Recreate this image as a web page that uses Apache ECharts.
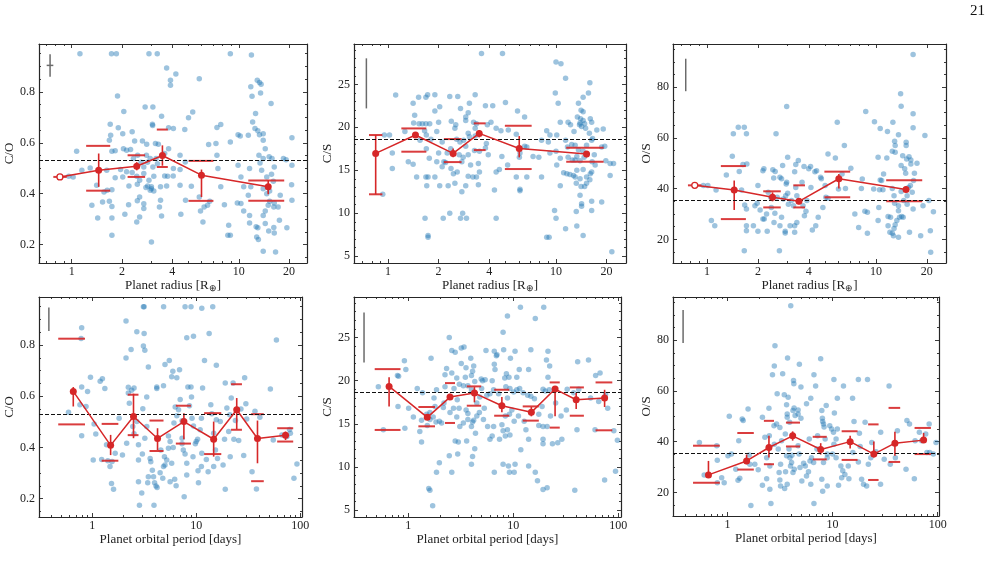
<!DOCTYPE html>
<html>
<head>
<meta charset="utf-8">
<title>C/O, C/S, O/S vs planet radius and orbital period</title>
<script src="https://cdn.jsdelivr.net/npm/echarts@6.0.0/dist/echarts.min.js"></script>
<style>
  html, body { margin: 0; padding: 0; background: #fff; }
  #main { width: 995px; height: 568px; }
</style>
</head>
<body>
<div id="main"></div>
<script>
"use strict";

var FONT = 'Liberation Serif';
var FRAME = '#262626';
var DOT = 'rgba(31,119,180,0.55)';
var RED = '#d62728';
var GREY = '#6b6b6b';

// solar reference ratios (dashed lines)
var solarCO = 0.532, solarCS = 18.65, solarOS = 35.6;

// tick labels
var radMajor = [1, 2, 4, 10, 20];
var radMinor = [0.7, 0.8, 0.9, 3, 5, 6, 7, 8, 9];
var perMajor = [1, 10, 100];
var perMinor = [0.4, 0.5, 0.6, 0.7, 0.8, 0.9, 2, 3, 4, 5, 6, 7, 8, 9, 20, 30, 40, 50, 60, 70, 80, 90];
var coMajor = [0.2, 0.4, 0.6, 0.8];
var csMajor = [5, 10, 15, 20, 25];
var osMajor = [20, 40, 60, 80];

// planets: [radius (R_earth), C/O]
var coRadius = [[1.12,0.95],[1.73,0.95],[1.85,0.95],[2.9,0.95],[3.25,0.95],[8.9,0.95],[11.9,0.945],
  [3.7,0.894],[4.2,0.87],[3.9,0.846],[3.9,0.826],[5.8,0.852],[12.9,0.846],[13.3,0.837],[13.6,0.83],[11.8,0.82],
  [13.5,0.796],[12,0.783],[1.88,0.784],[15.6,0.754],[2.75,0.741],[3.06,0.741],[2.05,0.723],[5.3,0.721],[5.0,0.698],
  [3.45,0.704],[12.6,0.715],[1.7,0.673],[1.9,0.659],[2.3,0.643],[2.02,0.636],[3.04,0.673],[3.05,0.668],[4.06,0.656],
  [3.8,0.659],[4.75,0.652],[7.8,0.672],[12.1,0.682],[12.5,0.656],[13,0.647],[14,0.636],[13.3,0.632],[1.71,0.63],
  [1.68,0.61],[2.38,0.607],[2.65,0.607],[2.04,0.577],[2.13,0.571],[2.25,0.574],[2.81,0.594],[3.17,0.597],[3.3,0.594],
  [1.74,0.567],[1.82,0.569],[1.07,0.567],[3.8,0.577],[3.6,0.558],[6.6,0.593],[8.9,0.603],[9.9,0.632],[10.2,0.627],
  [11.4,0.63],[14,0.61],[14.4,0.577],[20.8,0.62],[15.2,0.545],[15.8,0.538],[14,0.538],[13.4,0.521],[18.5,0.538],
  [19.2,0.533],[20.8,0.512],[13.7,0.492],[14.7,0.466],[15.7,0.477],[16.1,0.449],[14,0.42],[14.7,0.4],[15.3,0.411],
  [11.8,0.427],[10.7,0.427],[10.3,0.466],[9.9,0.512],[11.4,0.394],[9.8,0.364],[10.3,0.362],[10.7,0.332],[11.6,0.315],
  [11.6,0.285],[12.7,0.27],[13,0.266],[12.8,0.23],[13.1,0.22],[14,0.174],[16.6,0.171],[14.4,0.283],[15.1,0.254],
  [16.3,0.246],[16.2,0.348],[17.2,0.348],[14.4,0.332],[14,0.315],[15.3,0.37],[16.3,0.364],[17.7,0.394],[15,0.355],
  [16.3,0.505],[17.5,0.296],[16.2,0.267],[19.4,0.266],[20.7,0.435],[20.8,0.374],[13.2,0.551],[11.6,0.499],[7.8,0.427],
  [8.7,0.276],[8.6,0.237],[8.9,0.237],[8.2,0.357],[7.5,0.499],[6.7,0.37],[6.2,0.348],[5.9,0.332],[6.1,0.289],
  [6.5,0.355],[5.8,0.387],[5.2,0.429],[4.8,0.374],[4.5,0.319],[4.45,0.433],[4.45,0.551],[3.6,0.47],[4.05,0.47],
  [3.75,0.469],[3.1,0.469],[2.9,0.453],[3.0,0.42],[3.4,0.427],[3.7,0.43],[3.4,0.374],[3.35,0.348],[3.45,0.313],
  [3.0,0.21],[2.8,0.551],[2.95,0.538],[2.7,0.505],[2.7,0.479],[2.45,0.469],[2.47,0.437],[2.55,0.453],[2.85,0.43],
  [2.78,0.424],[2.95,0.414],[3.1,0.411],[3.0,0.427],[2.55,0.387],[2.47,0.372],[2.7,0.361],[2.7,0.342],[2.55,0.309],
  [2.45,0.289],[2.19,0.357],[2.08,0.319],[2.2,0.43],[2.02,0.466],[1.82,0.463],[1.74,0.416],[1.63,0.414],[1.56,0.407],
  [1.41,0.433],[1.68,0.37],[1.74,0.35],[1.53,0.368],[1.32,0.355],[1.43,0.305],[1.74,0.305],[1.74,0.237],[1.29,0.501],
  [1.15,0.492],[0.96,0.469],[1.02,0.466],[1.62,0.492],[1.96,0.495],[2.13,0.486],[2.3,0.483],[2.34,0.538],[2.48,0.551],
  [2.6,0.524],[2.84,0.524],[3.06,0.505],[3.26,0.518],[3.2,0.538],[4.06,0.499],[4.45,0.495],[4.78,0.525],[7.4,0.551],
  [7.3,0.597],[7.4,0.66]];

// planets: [radius, C/S]
var csRadius = [[3.6,28.6],[4.8,28.6],[10,27.6],[10.7,27.4],[11.4,25.7],[15.9,25.2],[1.11,23.76],[9.9,24.0],
  [1.41,22.8],[1.52,23.5],[1.68,23.5],[1.72,23.8],[1.9,23.8],[2.33,23.6],[2.6,23.6],[3.3,23.8],[10.3,22.8],[15.6,24.0],
  [14.5,23.5],[13.6,22.8],[14.1,22.0],[14.5,21.8],[5,22.9],[4.2,22.5],[3.8,22.5],[2.7,22.2],[3.05,22.8],[2.03,22.4],
  [1.9,21.9],[5.9,21.9],[6.5,21.2],[3.0,21.7],[2.9,21.2],[2.9,20.8],[1.44,21.4],[2.38,20.7],[2.53,20.3],[2.5,19.9],
  [2.0,20.6],[1.42,20.5],[1.53,20.4],[1.6,20.4],[1.68,20.4],[1.77,20.4],[3.23,20.6],[3.3,19.9],[3.36,20.4],[3.9,20.3],
  [4.1,20.6],[4.4,19.9],[4.7,19.6],[5.2,19.7],[5.8,19.2],[10.6,20.6],[11.8,20.6],[13.4,21.2],[14,21.0],[13.9,20.5],
  [13.8,20.3],[14.2,20.1],[14.5,20.8],[14.8,20.4],[15,19.9],[16,21.0],[16.3,20.6],[17.5,19.7],[15.8,19.3],[16.5,18.7],
  [16.3,18.5],[19.1,19.8],[12.8,19.5],[12.2,20.3],[8.8,19.6],[9.2,19.1],[8.2,18.5],[10.1,19.1],[11.4,18.5],[11.7,17.7],
  [13,17.9],[12.4,18.0],[15.2,17.9],[18.7,17.7],[19.5,17.8],[13.6,17.4],[14.5,17.2],[13.3,16.6],[14.7,16.5],[11.8,16.5],
  [12.5,16.2],[13.0,16.2],[13.9,16.1],[16.9,16.8],[16.4,16.0],[17.1,15.6],[19.8,16.1],[21,15.8],[22,15.8],[10,17.2],
  [10.6,16.4],[11.1,14.7],[11.6,14.6],[12.1,14.5],[12.7,14.4],[13.3,15.0],[14.5,15.1],[13.9,14.0],[15.2,14.2],[16.3,14.8],
  [16.0,14.6],[15.9,13.9],[15.2,13.5],[14.8,13.1],[13,14.2],[13.2,13.5],[14.1,13.1],[13.9,12.1],[10.6,13.2],[8.2,14.2],
  [10.1,15.6],[9.2,17.0],[7.3,16.6],[7.9,16.5],[9,18.3],[6.7,17.7],[6.1,17.0],[6.5,17.8],[6.05,16.5],[5.15,15.6],
  [5.8,14.2],[6.1,12.8],[6.1,12.6],[6.7,14.2],[4.76,16.6],[4.6,15.1],[4.4,14.8],[4.3,12.7],[4.4,9.4],[3.95,16.8],
  [3.85,18.1],[3.8,17.6],[3.5,17.2],[3.45,15.8],[3.27,17.3],[3.3,19.0],[3.05,18.9],[3,19.3],[3.1,15.6],[3.0,14.3],
  [3.2,14.2],[3.36,14.2],[3.45,13.3],[3.5,14.8],[2.9,13.2],[2.75,12.5],[2.5,13.5],[2.28,13.2],[2.03,13.2],[1.7,13.2],
  [1.73,14.2],[1.68,14.2],[1.48,14.2],[1.9,14.2],[1.95,16.0],[2.0,17.0],[2.1,18.3],[2.36,17.5],[2.25,17.0],[2.56,18.6],
  [2.68,18.3],[2.65,16.8],[2.75,16.0],[2.8,16.5],[2.37,15.2],[2.45,14.6],[2.58,14.8],[2.2,15.9],[2.9,17.8],[2.82,18.5],
  [3.0,16.8],[2.15,16.0],[2.1,15.4],[1.76,16.4],[1.69,17.5],[1.69,19.1],[1.65,19.6],[1.55,18.5],[1.32,16.0],[1.41,15.7],
  [1.26,19.5],[1.06,17.0],[1.06,15.2],[0.95,19.1],[1.02,19.1],[0.93,12.2],[1.66,9.4],[1.73,7.4],[1.73,7.2],[2.13,9.4],
  [2.33,10.0],[2.7,9.4],[2.78,10.0],[2.93,9.4],[8.8,7.2],[9.1,7.2],[9.8,10.3],[10,9.4],[11.4,8.2],[13.2,10.2],[13.3,8.5],
  [14.2,11.1],[14.2,10.8],[14.5,7.4],[16.3,10.3],[16.3,11.4],[18.7,11.3],[21,14.4],[21.5,5.5],[1.95,19.5],[1.8,18.6]];

// planets: [radius, O/S]
var osRadius = [[16.6,92.9],[14,77.4],[14.1,72.5],[2.96,72.4],[8.7,70.4],[9.8,66.4],[5.9,66.2],[12.6,66.2],
  [16.6,69.5],[16.6,64.0],[10.6,63.7],[11.7,62.5],[13.6,61.2],[19.5,60.9],[1.43,61.6],[1.53,64.2],[1.66,64.2],
  [1.71,61.6],[2.56,61.6],[12.9,58.7],[13,57.0],[15.1,58.3],[15.1,57.0],[6.5,57.0],[12.5,54.7],[13,54.3],[5.2,53.7],
  [5.75,52.1],[10.3,52.4],[11.6,52.1],[14.4,53.0],[15.2,51.7],[15.7,52.6],[16.1,51.3],[16.1,49.7],[17.5,50.0],
  [14.1,49.1],[14.8,47.8],[16.9,46.1],[1.41,52.8],[3.0,52.4],[3.47,51.1],[3.35,49.5],[3.75,48.7],[3.3,46.7],[2.8,49.1],
  [1.3,45.4],[1.55,46.8],[1.63,49.5],[1.72,49.7],[2.14,47.1],[2.17,47.8],[2.45,47.4],[2.53,46.8],[2.7,44.5],[2.76,43.9],
  [2.48,44.2],[2.96,42.5],[2.94,41.8],[3.35,40.5],[3.65,42.5],[4,47.8],[4.1,48.7],[4.35,46.7],[4.45,47.1],[4.7,44.5],
  [4.75,43.9],[5.05,36.6],[4.85,32.6],[4.55,28.7],[4.4,25.4],[4.2,23.7],[3.77,29.3],[3.85,31.1],[3.7,33.3],[3.9,35.3],
  [3.25,33.3],[3.3,25.4],[3.4,26.7],[3.3,22.8],[2.9,23.2],[2.9,22.5],[3.1,25.4],[2.7,25.4],[2.76,28.7],[2.52,30.3],
  [2.6,36.6],[2.83,35.9],[3.03,33.9],[2.92,37.2],[3.0,38.2],[3.4,37.2],[3.16,35.3],[2.4,32.6],[2.49,26.7],[2.25,30.0],
  [2.27,23.2],[2.14,28.0],[2.18,28.0],[2.06,31.6],[1.92,33.3],[1.98,34.2],[1.88,25.4],[2.0,23.2],[1.71,32.0],[1.71,23.4],
  [1.71,25.4],[1.66,15.5],[1.67,33.6],[1.6,39.5],[1.06,27.4],[1.11,25.4],[1.01,41.2],[0.95,41.2],[1.13,39.5],[2.0,41.2],
  [2.3,38.6],[2.38,36.6],[2.68,15.5],[4.12,40.5],[5.0,41.2],[5.2,36.2],[6.0,39.9],[6.3,45.8],[6.6,40.1],[7.1,48.0],
  [7.5,30.0],[7.9,24.7],[8.2,40.1],[8.3,43.8],[8.6,31.1],[8.9,30.7],[8.9,22.4],[10.3,27.4],[10.4,32.6],[10.5,39.6],
  [10.6,43.4],[10.8,43.2],[11,39.6],[11.8,29.0],[12.2,28.7],[11.8,25.4],[12.1,22.8],[12.5,22.4],[12.7,21.4],[13.6,20.8],
  [12.8,24.3],[13,25.8],[13.3,27.4],[13.8,28.7],[14.2,29.0],[14.5,28.7],[12.5,40.1],[12.8,37.2],[12.9,34.2],[13.6,31.3],
  [13.6,33.3],[14.1,38.9],[14.6,35.3],[15.3,33.9],[15.3,37.2],[15.6,40.5],[16,41.2],[16.4,38.6],[16.7,43.2],[16.6,32.0],
  [15.8,22.8],[18.4,21.4],[19,33.3],[20.6,35.3],[21,23.4],[21.9,30.9],[21.1,14.9],[15,46.1],[11.1,45.8],[9.7,39.9]];

// planets: [orbital period (days), C/O]
var coPeriod = [[3.1,0.95],[3.15,0.95],[4.85,0.95],[7.8,0.95],[8.9,0.95],[11.3,0.944],[14.4,0.95],[2.11,0.894],
  [0.79,0.868],[2.68,0.852],[3.15,0.845],[13.3,0.845],[8.1,0.829],[9.4,0.835],[0.78,0.826],[59,0.82],[3.1,0.796],
  [3.2,0.78],[2.36,0.783],[2.11,0.75],[12,0.74],[5.5,0.74],[5.0,0.724],[6.9,0.704],[5.95,0.698],[15.6,0.721],[3.46,0.714],
  [6.5,0.672],[5.8,0.676],[4.17,0.636],[4.17,0.63],[4.84,0.641],[8.3,0.636],[0.79,0.636],[0.76,0.567],[0.96,0.674],
  [0.9,0.619],[0.87,0.56],[0.79,0.446],[1.19,0.659],[1.25,0.668],[1.32,0.63],[0.59,0.537],[1.04,0.492],[1.08,0.452],
  [1.02,0.351],[1.37,0.41],[1.41,0.348],[1.48,0.325],[1.55,0.345],[1.53,0.259],[1.6,0.236],[1.66,0.377],[1.23,0.353],
  [1.95,0.37],[1.81,0.514],[2.14,0.416],[2.22,0.635],[2.22,0.613],[2.27,0.573],[2.39,0.623],[2.52,0.632],[2.45,0.482],
  [2.52,0.453],[2.68,0.501],[2.78,0.41],[2.78,0.351],[2.78,0.266],[2.84,0.174],[2.99,0.222],[3.03,0.374],[3.2,0.436],
  [3.34,0.482],[3.34,0.597],[3.06,0.551],[3.46,0.285],[3.41,0.262],[3.6,0.357],[3.65,0.344],[3.78,0.311],[3.88,0.285],
  [3.97,0.262],[3.92,0.174],[4.1,0.249],[4.2,0.243],[4.49,0.301],[4.56,0.39],[4.76,0.279],[4.84,0.325],[4.94,0.364],
  [5.0,0.331],[5.2,0.351],[5.4,0.397],[5.4,0.445],[5.6,0.423],[5.8,0.338],[6.0,0.4],[6.1,0.495],[6.27,0.558],[6.75,0.547],
  [7,0.587],[6.5,0.524],[7.3,0.504],[7.3,0.436],[7.3,0.414],[6.2,0.276],[6.4,0.25],[5.6,0.266],[7.65,0.207],[7.5,0.39],
  [7.8,0.374],[8.1,0.338],[8.1,0.292],[8.6,0.563],[8.9,0.636],[9.0,0.597],[9.1,0.514],[9.4,0.484],[9.3,0.364],[9.8,0.414],
  [10,0.423],[10.3,0.432],[10.9,0.469],[11.3,0.377],[10.4,0.309],[10.5,0.262],[11.2,0.325],[11.5,0.632],[11.2,0.514],
  [12.5,0.353],[13,0.305],[13.8,0.567],[14.1,0.532],[14.7,0.455],[14.7,0.325],[15.3,0.39],[15.6,0.508],[16,0.357],
  [17,0.501],[18.1,0.331],[19,0.236],[18.7,0.432],[19,0.652],[19.7,0.554],[21,0.528],[20.5,0.462],[21.2,0.364],
  [21.7,0.593],[22.6,0.652],[23,0.432],[23.8,0.505],[25.6,0.427],[26.9,0.55],[28.6,0.368],[29.2,0.672],[30,0.571],
  [30.6,0.511],[36.7,0.541],[34.4,0.305],[37.9,0.237],[40.9,0.518],[51.6,0.628],[55,0.429],[66.6,0.449],[74.6,0.443],
  [80.4,0.455],[79,0.47],[87,0.279],[93,0.335]];

// planets: [period, C/S]
var csPeriod = [[11.7,28.5],[19.5,28.5],[8.8,27.5],[16.2,27.2],[8,25.6],[2.46,25.0],[2.6,23.5],[2.8,23.3],[3.2,23.8],
  [3.4,23.9],[5.5,23.5],[6.6,23.4],[6.9,22.9],[7.0,23.0],[8.1,23.6],[10.4,23.4],[14.7,23.6],[21.4,23.4],[1.65,22.6],
  [0.92,22.3],[0.95,21.3],[3.94,22.6],[9.4,22.6],[20.7,22.4],[22.2,21.7],[41,22.2],[52,22.4],[3.2,22.0],[3.55,21.5],
  [4.2,21.7],[4.1,21.1],[2.32,21.4],[2.24,20.7],[2.6,20.9],[6.7,21.3],[6.6,21.9],[11.4,21.3],[14,21.3],[8.6,20.8],
  [8.3,20.3],[9.1,20.4],[4.0,20.6],[4.95,20.2],[5.4,20.1],[5.1,20.0],[4.3,19.9],[6.3,20.0],[10.8,20.4],[21.4,20.4],
  [60.8,20.6],[0.79,20.6],[0.81,20.5],[2.9,20.3],[3.5,20.4],[3.7,19.4],[4.0,18.95],[3.35,19.4],[3.07,19.6],[2.73,19.1],
  [2.24,19.3],[1.86,18.95],[1.76,18.0],[1.22,19.1],[1.37,18.6],[0.52,19.3],[5.0,19.1],[4.8,18.1],[4.5,17.4],[5.6,18.3],
  [6.0,18.5],[6.5,18.95],[7.25,18.5],[8.5,19.3],[8.8,18.0],[9.3,19.1],[10.1,18.7],[10.8,18.95],[11.5,19.1],[12.4,18.6],
  [13.7,18.3],[14.7,18.2],[15.9,17.9],[19.2,19.0],[20.2,18.8],[22,18.95],[32.6,19.0],[37.6,18.6],[42,19.0],[54.4,18.0],
  [65,17.6],[75.6,18.4],[79.2,16.8],[67,20.9],[32,16.6],[25.3,17.4],[22.6,15.9],[18.8,17.0],[17.5,16.1],[17.5,14.8],
  [19.2,14.7],[21,14.7],[19.2,13.2],[19.2,12.7],[23.6,12.7],[26.5,12.8],[29,13.2],[28.5,15.9],[12.7,15.3],[14,13.2],
  [13.2,14.3],[11.8,12.0],[11.2,15.9],[10.2,15.3],[9.7,16.6],[9.2,16.1],[8.4,15.9],[7.8,14.9],[8.0,14.2],[8.8,14.3],
  [9.3,13.7],[8.4,13.6],[7.4,13.2],[6.5,14.7],[6.3,13.6],[6.0,13.2],[5.7,14.7],[5.2,15.5],[5.3,16.8],[4.76,16.3],
  [4.5,15.9],[4.2,15.4],[4.1,15.2],[4.37,13.9],[4.0,14.7],[3.7,15.5],[3.7,16.2],[3.56,16.6],[3.35,15.1],[3.1,14.7],
  [2.9,15.8],[3.05,16.8],[2.93,17.8],[2.7,16.8],[2.5,16.3],[2.19,17.4],[2.08,15.1],[1.98,15.3],[2.16,16.9],[1.5,16.1],
  [1.61,15.5],[1.61,16.3],[1.34,15.4],[1.29,14.1],[1.34,12.9],[1.12,15.8],[1.01,16.8],[0.8,17.0],[0.58,14.3],[0.93,14.5],
  [1.8,17.0],[1.73,15.8],[1.84,15.2],[1.52,14.8],[1.57,7.5],[1.61,7.3],[1.71,5.5],[1.86,9.4],[1.98,10.5],[2.6,9.4],
  [2.46,11.3],[2.8,13.0],[2.96,11.5],[3.0,12.9],[3.6,13.0],[4.0,10.3],[4.1,11.2],[4.3,12.1],[6.6,9.4],[8,10.3],[9,10.1],
  [9.2,9.4],[10.2,9.4],[10.4,10.3],[14,10.1],[16.2,9.4],[17,8.4],[19.2,7.4],[21,7.6],[38.5,7.3],[40.4,14.3],[74,8.5],
  [90.6,14.2],[94,9.5],[98,13.1],[60,14.3]];

// planets: [period, O/S]
var osPeriod = [[4.0,93.6],[2.83,77.8],[2.79,69.8],[3.73,73.0],[7.7,72.7],[4.83,70.5],[2.68,66.4],[6.65,66.4],
  [3.35,66.8],[4.25,64.1],[4.28,62.8],[5.0,61.5],[6.9,61.9],[10.3,64.5],[12.7,61.9],[17.6,64.5],[21.5,64.5],[34.5,61.9],
  [15.5,57.1],[11.1,57.1],[6.2,57.1],[2.97,58.9],[3.47,58.5],[5.65,54.9],[3.65,54.5],[3.78,57.5],[4.3,53.3],[8.7,54.2],
  [10.4,51.3],[1.57,52.9],[2.48,53.2],[3.7,50.9],[3.7,49.6],[4.2,52.3],[4.7,52.5],[4.4,50.3],[3.9,47.6],[4.7,50.9],
  [5.0,49.2],[8,49.2],[8.05,47.9],[7.9,52.3],[8.2,47.0],[8.3,45.8],[2.15,49.6],[1.38,48.9],[1.41,48.3],[1.04,50.0],
  [0.54,39.7],[0.79,38.4],[0.8,32.7],[0.6,26.9],[0.88,25.8],[0.93,23.8],[0.8,23.8],[1.01,34.4],[1.09,35.1],[1.28,40.4],
  [1.2,29.1],[1.26,24.8],[1.31,25.6],[1.61,34.7],[1.63,31.1],[1.82,31.1],[1.96,28.9],[1.67,14.8],[2.15,22.8],[2.36,25.4],
  [2.53,21.2],[2.53,30.4],[2.36,33.7],[2.59,15.6],[2.27,41.7],[2.5,42.3],[2.77,46.3],[2.93,47.0],[3.15,45.6],[2.79,39.0],
  [3.04,37.1],[3.27,40.4],[3.2,31.1],[3.1,27.8],[3.15,24.9],[3.2,22.5],[3.5,21.5],[3.57,28.1],[3.65,34.4],[3.55,43.0],
  [3.85,37.1],[3.93,33.7],[4.1,34.6],[4.07,31.8],[3.98,30.4],[4.32,29.1],[4.2,27.8],[3.7,23.2],[4.7,38.4],[4.8,35.1],
  [4.9,29.8],[5.3,31.5],[5.1,24.5],[5.5,30.4],[5.65,26.5],[5.9,28.1],[6.1,32.4],[6.3,33.7],[6.2,23.2],[6.0,41.0],
  [6.6,31.8],[6.65,15.6],[7.1,37.1],[7.2,42.3],[7.9,25.2],[8.05,20.5],[8.2,31.8],[8.5,41.0],[8.9,35.1],[8.9,33.7],
  [8.9,22.5],[9.4,46.3],[9.8,45.0],[10.2,43.7],[10.3,39.0],[10.8,41.0],[11.1,45.0],[10.0,35.1],[10.8,33.7],[11.4,22.8],
  [12,30.4],[12.2,25.8],[12.5,28.5],[13.1,27.1],[14.1,30.4],[14.3,25.4],[15.6,35.7],[16,47.9],[17.6,32.0],[18,43.3],
  [18.3,38.1],[18.9,25.2],[19.7,23.2],[20.4,47.6],[21.1,22.5],[21.9,31.1],[23.1,33.7],[23.6,39.7],[25.9,36.0],
  [28.7,43.7],[28.6,23.2],[31,33.1],[35.4,31.1],[39.6,33.7],[41.4,44.3],[51,48.3],[54,47.0],[50,29.1],[60,25.4],
  [61,40.4],[67,43.7],[77,43.0],[83,47.0],[79,35.7],[91,35.1],[96.5,39.7],[84,35.7],[70.5,40.4]];

// binned statistics: [centre, mean, errLo, errHi, binLo, binHi, pctLo, pctHi]
// errLo = null marks a single-planet bin (open marker, no error bar)
var coRadBins = [
  [0.85, 0.466, null, null, 0.776, 0.933, 0.466, 0.466],
  [1.45, 0.492, 0.427, 0.558, 1.22, 1.70, 0.412, 0.588],
  [2.45, 0.508, 0.492, 0.524, 2.16, 2.75, 0.466, 0.551],
  [3.49, 0.550, 0.510, 0.590, 3.23, 3.76, 0.505, 0.652],
  [5.98, 0.473, 0.387, 0.495, 5.00, 7.05, 0.372, 0.529],
  [15.0, 0.427, 0.398, 0.453, 11.4, 18.7, 0.372, 0.452]];
var csRadBins = [
  [0.844, 16.96, 12.2, 19.1, 0.77, 0.925, 12.2, 19.1],
  [1.456, 19.1, 18.8, 19.3, 1.20, 1.69, 17.16, 19.87],
  [2.44, 16.96, 16.5, 17.54, 2.15, 2.74, 15.95, 18.63],
  [3.49, 19.29, 18.83, 19.68, 3.24, 3.81, 17.35, 20.46],
  [6.04, 17.54, 16.5, 18.98, 4.96, 7.16, 15.14, 20.18],
  [15.2, 16.88, 16.5, 17.16, 11.5, 19.2, 15.99, 17.62]];
var osRadBins = [
  [0.845, 41.3, null, null, 0.77, 0.925, 41.3, 41.3],
  [1.447, 39.5, 31.6, 43.2, 1.206, 1.697, 28.0, 48.9],
  [2.44, 36.6, 35.0, 38.55, 2.15, 2.73, 32.6, 38.95],
  [3.50, 35.0, 33.9, 35.9, 3.24, 3.80, 32.6, 41.3],
  [6.03, 43.9, 40.1, 45.8, 4.95, 7.04, 36.6, 46.7],
  [15.07, 39.7, 38.55, 40.8, 11.5, 18.8, 35.0, 43.3]];
var coPerBins = [
  [0.656, 0.619, 0.560, 0.636, 0.47, 0.85, 0.490, 0.825],
  [1.50, 0.408, 0.370, 0.449, 1.23, 1.78, 0.348, 0.492],
  [2.49, 0.521, 0.436, 0.610, 2.19, 2.78, 0.448, 0.606],
  [4.24, 0.435, 0.390, 0.475, 3.55, 4.84, 0.386, 0.505],
  [7.6, 0.501, 0.432, 0.534, 6.36, 8.89, 0.415, 0.563],
  [14.7, 0.432, 0.364, 0.501, 11.9, 17.4, 0.374, 0.534],
  [24.5, 0.547, 0.471, 0.593, 21.6, 27.5, 0.469, 0.647],
  [38.8, 0.435, 0.338, 0.505, 33.7, 44.6, 0.268, 0.530],
  [72.2, 0.448, 0.429, 0.462, 60.0, 85.6, 0.423, 0.475]];
var csPerBins = [
  [0.658, 19.34, 17.02, 20.41, 0.48, 0.845, 14.29, 21.34],
  [1.52, 15.75, 15.48, 16.06, 1.25, 1.80, 14.71, 16.95],
  [2.50, 18.1, 17.79, 18.49, 2.24, 2.79, 15.1, 19.72],
  [4.27, 18.56, 17.49, 19.26, 3.61, 4.95, 17.1, 19.34],
  [7.79, 17.1, 16.33, 18.1, 6.58, 9.16, 15.94, 18.95],
  [14.86, 16.33, 15.87, 16.95, 12.3, 17.5, 15.37, 17.02],
  [25.0, 19.03, 15.87, 19.34, 22.2, 27.7, 14.56, 19.8],
  [39.7, 17.79, 16.71, 18.56, 34.5, 47.0, 15.94, 19.22],
  [74.0, 17.99, 16.95, 18.95, 60.7, 87.6, 14.25, 19.8]];
var osPerBins = [
  [0.659, 26.9, 26.5, 32.4, 0.47, 0.845, 23.8, 38.4],
  [1.52, 32.4, 31.1, 34.9, 1.24, 1.78, 29.0, 43.4],
  [2.48, 37.7, 33.75, 42.3, 2.22, 2.77, 31.1, 48.2],
  [4.17, 42.3, 40.4, 44.05, 3.6, 4.9, 38.1, 47.5],
  [7.71, 36.9, 34.9, 39.4, 6.47, 8.8, 33.0, 41.9],
  [14.7, 40.0, 37.3, 42.3, 12.2, 17.3, 32.8, 44.1],
  [24.7, 35.1, 33.75, 40.1, 21.8, 27.4, 24.9, 46.8],
  [39.2, 39.4, 34.4, 43.9, 34.1, 44.0, 32.0, 53.3],
  [73.5, 40.6, 39.7, 43.4, 60.3, 86.3, 35.1, 45.4]];

// typical uncertainty markers: [x, lo, hi] and optional horizontal [x0, x1, y]
var uncCoRad = [0.742, 0.859, 0.948], uncCoRadH = [0.708, 0.776, 0.904];
var uncCsRad = [0.743, 22.2, 28.03];
var uncOsRad = [0.747, 78.4, 91.2];
var uncCoPer = [0.382, 0.855, 0.947];
var uncCsPer = [0.38, 22.11, 27.89];
var uncOsPer = [0.378, 78.9, 91.9];

var radName = 'Planet radius [R{s|\u2295}]';
var perName = 'Planet orbital period [days]';

var panels = [
  {pts: coRadius, bins: coRadBins, unc: uncCoRad, uncH: uncCoRadH, ref: solarCO, yName: 'C/O', xName: radName,
   xr: [0.637, 25.6], yr: [0.128, 0.988], xMajor: radMajor, xMinor: radMinor, yMajor: coMajor, yStep: 0.05,
   box: [39, 44, 268, 219], yGap: 20},
  {pts: csRadius, bins: csRadBins, unc: uncCsRad, ref: solarCS, yName: 'C/S', xName: radName,
   xr: [0.627, 26.1], yr: [4.2, 29.7], xMajor: radMajor, xMinor: radMinor, yMajor: csMajor, yStep: 1,
   box: [354, 44, 272, 219], yGap: 17},
  {pts: osRadius, bins: osRadBins, unc: uncOsRad, ref: solarOS, yName: 'O/S', xName: radName,
   xr: [0.628, 26.0], yr: [10.7, 97], xMajor: radMajor, xMinor: radMinor, yMajor: osMajor, yStep: 5,
   box: [673, 44, 273, 219], yGap: 18},
  {pts: coPeriod, bins: coPerBins, unc: uncCoPer, ref: solarCO, yName: 'C/O', xName: perName,
   xr: [0.307, 104], yr: [0.128, 0.988], xMajor: perMajor, xMinor: perMinor, yMajor: coMajor, yStep: 0.05,
   box: [39, 297, 263, 220], yGap: 20},
  {pts: csPeriod, bins: csPerBins, unc: uncCsPer, ref: solarCS, yName: 'C/S', xName: perName,
   xr: [0.305, 106], yr: [4.2, 29.7], xMajor: perMajor, xMinor: perMinor, yMajor: csMajor, yStep: 1,
   box: [354, 297, 267, 220], yGap: 18},
  {pts: osPeriod, bins: osPerBins, unc: uncOsPer, ref: solarOS, yName: 'O/S', xName: perName,
   xr: [0.303, 103], yr: [10.7, 97], xMajor: perMajor, xMinor: perMinor, yMajor: osMajor, yStep: 5,
   box: [673, 297, 266, 219], yGap: 18}
];

function lg(v) { return Math.log10(v); }

function minorOf(r, step, major) {
  var out = [];
  for (var k = Math.ceil(r[0] / step - 1e-9); k * step <= r[1] + 1e-9; k++) {
    var v = +(k * step).toFixed(6);
    if (major.indexOf(v) < 0) out.push(v);
  }
  return out;
}

function mkAxis(gi, pos, range, ticks, len, main) {
  return {
    type: 'value', gridIndex: gi, position: pos,
    min: range[0], max: range[1],
    axisLine: {show: main, onZero: false, lineStyle: {color: FRAME, width: 1.2}},
    axisTick: {show: true, inside: true, length: len, customValues: ticks,
      lineStyle: {color: FRAME, width: 0.9}},
    axisLabel: {show: false},
    splitLine: {show: false},
    silent: true
  };
}

function hSeg(color, width) {
  return function (params, api) {
    var a = api.coord([api.value(0), api.value(2)]);
    var b = api.coord([api.value(1), api.value(2)]);
    return {type: 'line', shape: {x1: a[0], y1: a[1], x2: b[0], y2: b[1]},
      style: {stroke: color, lineWidth: width}};
  };
}
function vSeg(color, width) {
  return function (params, api) {
    var a = api.coord([api.value(0), api.value(1)]);
    var b = api.coord([api.value(0), api.value(2)]);
    return {type: 'line', shape: {x1: a[0], y1: a[1], x2: b[0], y2: b[1]},
      style: {stroke: color, lineWidth: width}};
  };
}

var grids = [], xAxes = [], yAxes = [], series = [];

panels.forEach(function (p, g) {
  grids.push({left: p.box[0], top: p.box[1], width: p.box[2], height: p.box[3],
    outerBoundsMode: 'none', containLabel: false});

  var xr = [lg(p.xr[0]), lg(p.xr[1])];
  var xMaj = p.xMajor.map(lg), xMin = p.xMinor.map(lg);
  var yMin = minorOf(p.yr, p.yStep, p.yMajor);

  // x: bottom major (labels), bottom minor, top major, top minor
  var xb = mkAxis(g, 'bottom', xr, xMaj, 4, true);
  xb.axisLabel = {show: true, customValues: xMaj, margin: 3, color: '#222',
    fontFamily: FONT, fontSize: 12,
    formatter: function (v) { return String(Math.round(Math.pow(10, v) * 100) / 100); }};
  xb.name = p.xName;
  xb.nameLocation = 'middle';
  xb.nameGap = 14;
  xb.nameTextStyle = {color: '#222', fontFamily: FONT, fontSize: 13,
    rich: {s: {fontFamily: FONT, fontSize: 9, color: '#222', verticalAlign: 'bottom', padding: [6, 0, 0, 0]}}};
  xAxes.push(xb, mkAxis(g, 'bottom', xr, xMin, 2, false),
    mkAxis(g, 'top', xr, xMaj, 4, true), mkAxis(g, 'top', xr, xMin, 2, false));

  // y: left major (labels), left minor, right major, right minor
  var yl = mkAxis(g, 'left', p.yr, p.yMajor, 4, true);
  yl.axisLabel = {show: true, customValues: p.yMajor, margin: 4, color: '#222',
    fontFamily: FONT, fontSize: 12};
  yl.name = p.yName;
  yl.nameLocation = 'middle';
  yl.nameGap = p.yGap;
  yl.nameRotate = 90;
  yl.nameTextStyle = {color: '#222', fontFamily: FONT, fontSize: 13};
  yAxes.push(yl, mkAxis(g, 'left', p.yr, yMin, 2, false),
    mkAxis(g, 'right', p.yr, p.yMajor, 4, true), mkAxis(g, 'right', p.yr, yMin, 2, false));

  var xi = 4 * g, yi = 4 * g;

  series.push({
    type: 'scatter', xAxisIndex: xi, yAxisIndex: yi, z: 2,
    symbolSize: 5.5, itemStyle: {color: DOT},
    data: p.pts.map(function (d) { return [lg(d[0]), d[1]]; }),
    markLine: {silent: true, symbol: 'none', label: {show: false},
      lineStyle: {color: '#111', type: [4, 2], width: 1},
      data: [{yAxis: p.ref}]}
  });

  var dashes = [];
  p.bins.forEach(function (b) {
    dashes.push([lg(b[4]), lg(b[5]), b[6]]);
    if (b[7] !== b[6]) dashes.push([lg(b[4]), lg(b[5]), b[7]]);
  });
  series.push({
    type: 'custom', xAxisIndex: xi, yAxisIndex: yi, z: 3,
    renderItem: hSeg('rgba(214,39,40,0.9)', 2), encode: {x: [0, 1], y: 2}, data: dashes
  });

  series.push({
    type: 'custom', xAxisIndex: xi, yAxisIndex: yi, z: 4,
    renderItem: vSeg(RED, 1.6), encode: {x: 0, y: [1, 2]},
    data: p.bins.filter(function (b) { return b[2] !== null; })
      .map(function (b) { return [lg(b[0]), b[2], b[3]]; })
  });

  series.push({
    type: 'line', xAxisIndex: xi, yAxisIndex: yi, z: 5,
    symbol: 'circle', symbolSize: 7, showAllSymbol: true,
    lineStyle: {color: RED, width: 1.5}, itemStyle: {color: RED},
    data: p.bins.map(function (b) {
      var item = {value: [lg(b[0]), b[1]]};
      if (b[2] === null) {
        item.symbolSize = 6;
        item.itemStyle = {color: '#fff', borderColor: RED, borderWidth: 1.3};
      }
      return item;
    })
  });

  series.push({
    type: 'custom', xAxisIndex: xi, yAxisIndex: yi, z: 4,
    renderItem: vSeg(GREY, 1.5), encode: {x: 0, y: [1, 2]},
    data: [[lg(p.unc[0]), p.unc[1], p.unc[2]]]
  });
  if (p.uncH) {
    series.push({
      type: 'custom', xAxisIndex: xi, yAxisIndex: yi, z: 4,
      renderItem: hSeg(GREY, 1.5), encode: {x: [0, 1], y: 2},
      data: [[lg(p.uncH[0]), lg(p.uncH[1]), p.uncH[2]]]
    });
  }
});

var chart = echarts.init(document.getElementById('main'), null, {renderer: 'canvas'});
chart.setOption({
  backgroundColor: '#fff',
  animation: false,
  textStyle: {fontFamily: FONT},
  grid: grids,
  xAxis: xAxes,
  yAxis: yAxes,
  series: series,
  graphic: [{
    type: 'text', right: 10, top: 4,
    style: {text: '21', font: '15px "Liberation Serif"', fill: '#111'}
  }]
});
</script>
</body>
</html>
